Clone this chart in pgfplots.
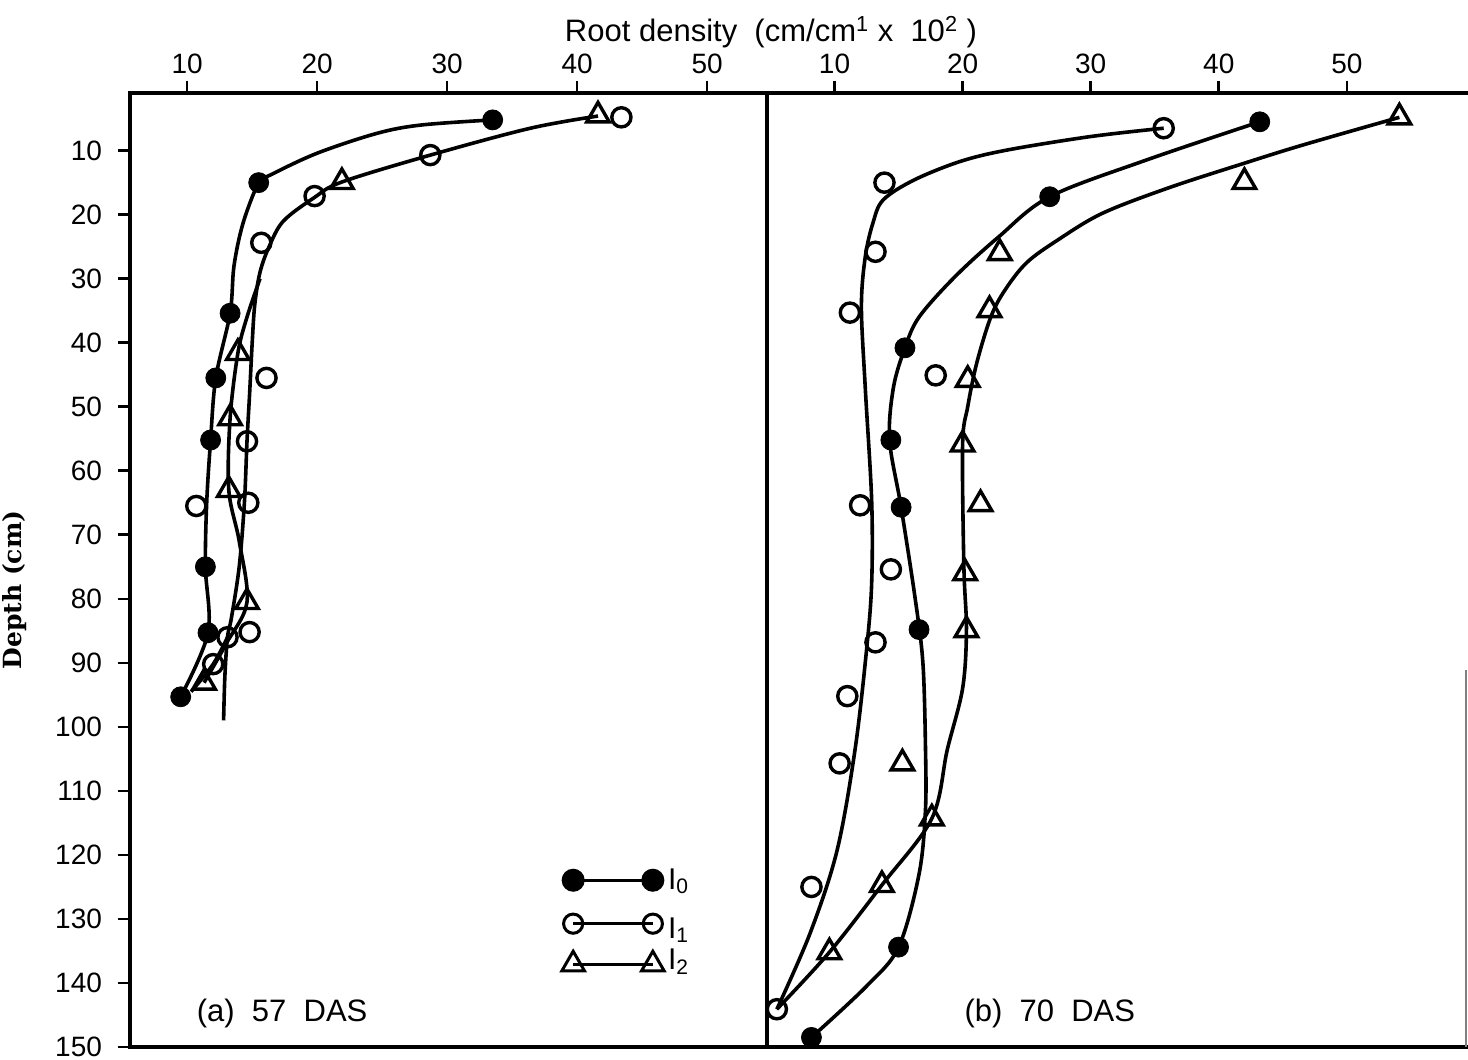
\documentclass[border=0pt]{standalone}
\usepackage{fontspec}
\setmainfont{Liberation Sans}
\newfontfamily\depthfont{DejaVu Serif}
\usepackage{pgfplots}
\pgfplotsset{compat=1.18}

\pgfplotsset{
  panel/.style={
    scale only axis, height=477pt,
    y dir=reverse, ymin=1, ymax=150,
    tick align=outside, major tick length=6pt,
    every tick/.style={line width=1.3pt, black},
    axis line style={line width=2pt},
    xtick pos=right, xticklabel pos=right,
    xtick={10,20,30,40,50},
    /pgf/number format/assume math mode=true,
    ticklabel style={font=\fontsize{14}{16}\selectfont},
    legend image code/.code={\draw[mark repeat=2,mark phase=1,##1] plot coordinates {(0cm,0cm) (0.7cm,0cm) (1.4cm,0cm)};},
  },
  curve/.style={black, line width=1.8pt, smooth, tension=0.55, no marks},
  mI0/.style={black, only marks, mark=*, mark size=5pt, mark options={fill=black}},
  mI1/.style={black, only marks, mark=o, mark size=4.8pt, mark options={fill=white, line width=1.7pt}},
  mI2/.style={black, only marks, mark=triangle, mark size=6.5pt, mark options={fill=white, line width=1.7pt}},
}

\begin{document}
\begin{tikzpicture}
\path[use as bounding box] (0,0) rectangle (734pt,530pt);

% ---------------- panel (a) ----------------
\begin{axis}[panel,
  at={(65pt,6.5pt)}, anchor=south west,
  width=318.5pt, xmin=5.6, xmax=54.6,
  ytick={10,20,...,150}, ytick pos=left,
  yticklabel style={xshift=-4.5pt},
  clip=false,
  legend style={draw=none, fill=none, at={(0.668,0.196)}, anchor=north west,
    font=\fontsize{15}{17}\selectfont, row sep=9pt,
    /tikz/every even column/.append style={column sep=2pt}},
]
\addlegendimage{black, line width=1.5pt, mark=*, mark size=5pt}
\addlegendentry{I\textsubscript{0}}
\addlegendimage{black, line width=1.5pt, mark=o, mark size=4.8pt, mark options={fill=white}}
\addlegendentry{\raisebox{-8pt}[0pt][0pt]{I\textsubscript{1}}}
\addlegendimage{black, line width=1.5pt, mark=triangle, mark size=6.5pt, mark options={fill=white}}
\addlegendentry{\raisebox{-3.5pt}[0pt][0pt]{I\textsubscript{2}}}

% curves
\addplot[curve, forget plot] coordinates {
 (33.5,5.2) (28,6) (24.6,7.3) (20,10.4) (16.4,13.8) (15.5,15) (14.3,21.3)
 (13.6,28) (13.3,35.4) (12.2,45.5) (11.8,55.2) (11.5,65) (11.4,75) (11.6,85.3) (9.5,95.3)};
\addplot[curve, forget plot] coordinates {
 (41.6,4.6) (36.4,6.5) (28.7,10.7) (21.9,14.9) (19.8,17.3) (17.4,21) (16.3,25)
 (15.6,29) (15.2,34) (15.0,40) (14.8,48) (14.6,55.4) (14.4,65) (14.0,75)
 (13.4,83) (13.1,86) (12.9,92) (12.8,99)};
\addplot[curve, forget plot] coordinates {
 (15.6,30) (14.6,36) (13.9,41.6) (13.3,51.8) (13.2,63) (14.0,71) (14.6,80.5) (13,87) (11.3,93.1)};
\addplot[curve, forget plot, smooth=false] coordinates {
 (13.1,86) (12.0,90.2) (10.3,94.5)};

% markers
\addplot[mI0, forget plot] coordinates {
 (33.5,5.2) (15.5,15.0) (13.3,35.4) (12.2,45.5) (11.8,55.2) (11.4,75.0) (11.6,85.3) (9.5,95.3)};
\addplot[mI1, forget plot] coordinates {
 (43.4,4.8) (28.7,10.7) (19.8,17.1) (15.7,24.4) (16.1,45.5) (14.6,55.4) (10.7,65.5)
 (14.7,65.0) (13.1,86.0) (14.8,85.2) (12.0,90.2)};
\addplot[mI2, forget plot] coordinates {
 (41.6,4.5) (21.9,14.9) (13.9,41.6) (13.3,51.8) (13.2,63.0) (14.6,80.5) (11.3,93.1)};

\node[anchor=west, font=\fontsize{15.5}{17}\selectfont] at (axis cs:10.2,144.7) {(a)\ \ 57\ \ DAS};
\end{axis}

% ---------------- panel (b) ----------------
\begin{axis}[panel,
  at={(383.5pt,6.5pt)}, anchor=south west,
  width=349.5pt, xmin=4.73, xmax=59.3,
  ytick=\empty, clip=false,
  axis line style={draw=none},
]
\addplot[curve] coordinates {
 (43.2,5.5) (34.3,11.5) (26.8,17.2) (22.8,23.5) (19.4,29.7) (16.6,36) (15.5,40.8)
 (14.6,47) (14.3,55.2) (15.2,65.7) (16.3,80) (16.9,90) (17.1,103) (17.1,113)
 (16.6,123) (15.0,134.4) (12.5,140.5) (8.2,148.5)};
\addplot[curve] coordinates {
 (35.7,6.5) (30,7.8) (23.5,9.9) (19.8,11.7) (16.2,14.6) (13.8,17.7) (13.0,21.3)
 (12.4,26.6) (12.1,34.4) (12.4,47) (12.9,64.6) (12.9,77.6) (12.5,88) (11.6,103.6)
 (10.2,119.3) (8.1,132.2) (5.5,144.1)};
\addplot[curve] coordinates {
 (54.1,4.8) (46.6,9.1) (42.1,11.9) (36.1,15.8) (30.9,19.8) (27.4,24) (25,27.5)
 (23.3,31.8) (22.2,36) (21.1,43.2) (20.4,50) (20.0,55.9) (20.1,75) (20.3,84.9)
 (20.0,94) (18.8,103.6) (17.6,114.3) (13.7,124.7) (9.6,135.2) (5.5,144.1)};

\addplot[mI0] coordinates {
 (43.2,5.5) (26.8,17.2) (15.5,40.8) (14.4,55.2) (15.2,65.7) (16.6,84.8) (15.0,134.4) (8.2,148.5)};
\addplot[mI1] coordinates {
 (35.7,6.5) (13.9,15.0) (13.2,25.8) (11.2,35.3) (17.9,45.1) (12.0,65.4) (14.4,75.4)
 (13.2,86.8) (11.0,95.2) (10.4,105.7) (8.2,125.0) (5.5,144.1)};
\addplot[mI2] coordinates {
 (54.1,4.8) (42.0,14.9) (22.9,26.0) (22.1,34.9) (20.4,45.8) (20.0,55.9) (21.4,65.2)
 (20.2,76.0) (20.3,84.9) (15.3,105.7) (17.6,114.3) (13.7,124.7) (9.6,135.2)};

\draw[line width=2pt, line cap=rect] (axis description cs:0,1) -- (axis description cs:1,1);
\draw[line width=2pt, line cap=rect] (axis description cs:0,0) -- (axis description cs:1,0);
\draw[line width=2pt] (axis description cs:0,0) -- (axis description cs:0,1);
\draw[line width=0.8pt, gray] (axis description cs:1,0) -- (axis description cs:1,0.395);

\node[anchor=west, font=\fontsize{15.5}{17}\selectfont] at (axis cs:19.6,144.7) {(b)\ \ 70\ \ DAS};
\end{axis}

% titles
\node[font=\fontsize{15.5}{17}\selectfont] at (385.5pt,514pt)
  {Root density\ \ (cm/cm\textsuperscript{1}\ x\ \ 10\textsuperscript{2}\ )};
\node[rotate=90, font=\depthfont\bfseries\fontsize{12.5}{14}\selectfont] at (7.5pt,235pt) {Depth (cm)};
\end{tikzpicture}
\end{document}
